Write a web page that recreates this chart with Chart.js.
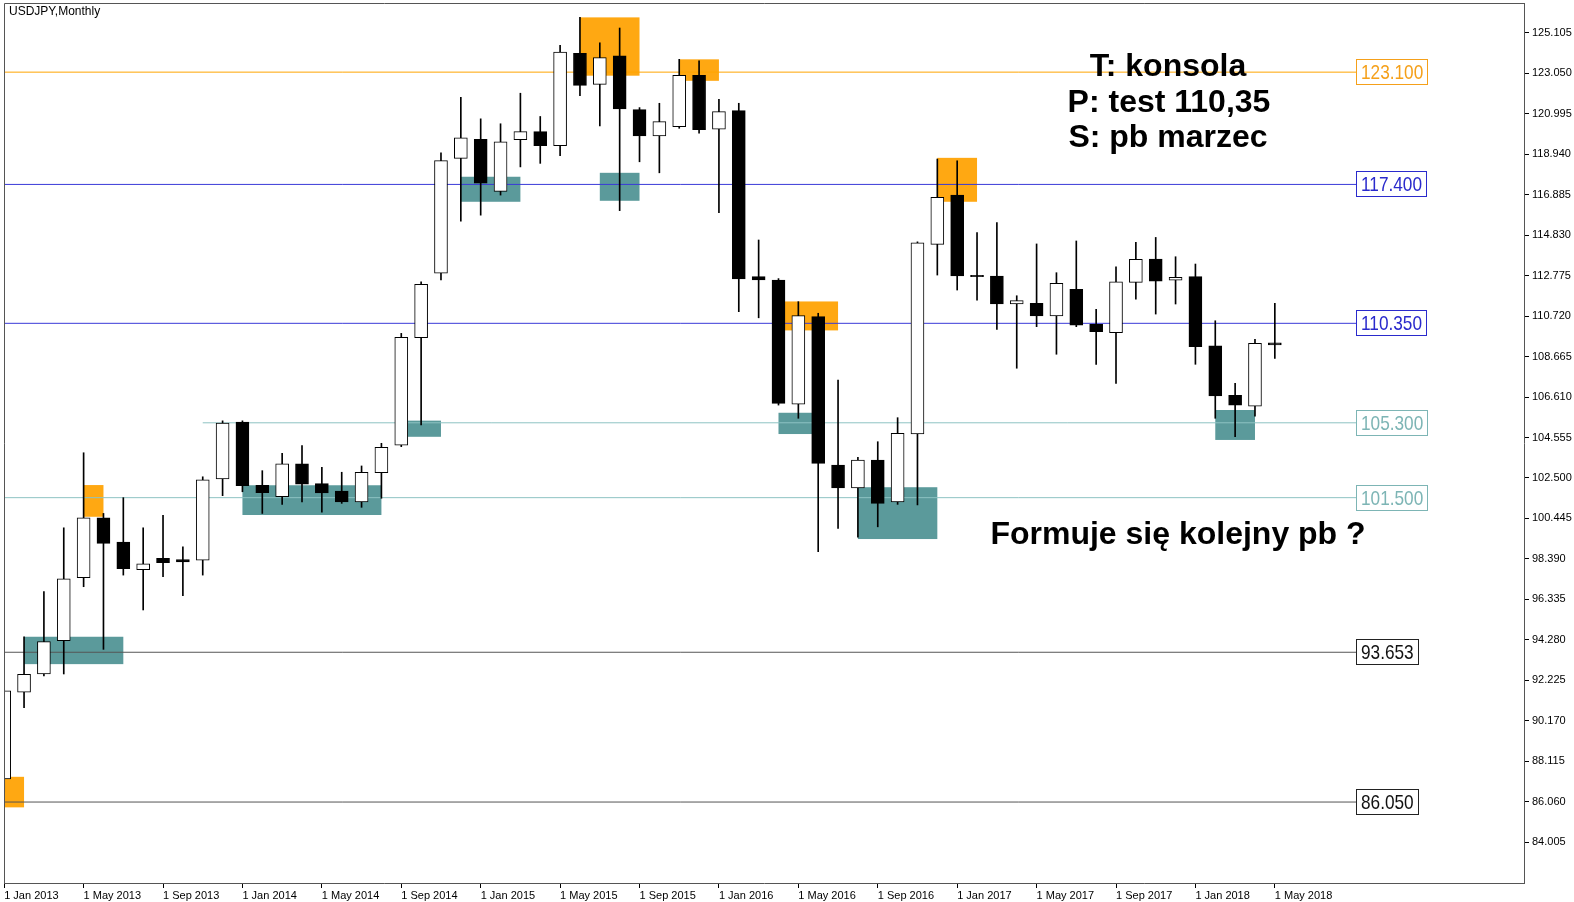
<!DOCTYPE html>
<html>
<head>
<meta charset="utf-8">
<script src="https://cdn.jsdelivr.net/npm/chart.js"></script>
<style>
  html, body { margin: 0; padding: 0; background: #fff; }
  #wrap { width: 1574px; height: 902px; }
</style>
</head>
<body>
<div id="wrap"><canvas id="usdjpyChart"></canvas></div>
<script>
// monthly candles, index 0 = Jan 2013 ... 64 = May 2018
const opens  = [87.22, 91.63, 92.55, 94.24, 97.44, 100.48, 99.25, 97.84, 98.42, 98.36, 98.33, 102.45,
                105.34, 102.13, 101.55, 103.22, 102.21, 101.84, 101.28, 102.77, 104.17, 109.62, 112.89, 118.72,
                119.69, 117.05, 119.67, 120.08, 119.37, 124.05, 122.48, 123.93, 121.20, 119.86, 120.33, 122.94,
                120.20, 121.15, 112.72, 112.55, 106.24, 110.69, 103.16, 101.99, 103.41, 101.29, 104.73, 114.36,
                116.86, 112.78, 112.75, 111.33, 111.36, 110.72, 112.07, 110.30, 109.87, 112.43, 113.61, 112.54,
                112.72, 109.21, 106.69, 106.15, 109.36];
const highs  = [91.75, 94.44, 96.73, 99.97, 103.78, 100.70, 101.50, 99.97, 100.60, 99.01, 102.56, 105.40,
                105.40, 102.87, 103.75, 104.14, 103.04, 102.79, 103.11, 104.26, 109.84, 112.46, 119.01, 121.82,
                120.73, 120.48, 122.03, 120.85, 124.46, 125.88, 124.59, 125.34, 121.30, 121.52, 123.75, 123.68,
                121.72, 121.52, 114.58, 112.62, 111.45, 110.86, 107.47, 103.55, 104.34, 105.56, 114.49, 118.69,
                118.60, 114.95, 115.46, 111.75, 114.38, 112.92, 114.53, 111.06, 113.22, 114.46, 114.71, 113.73,
                113.36, 110.48, 107.30, 109.54, 111.37];
const lows   = [86.55, 90.84, 92.45, 92.55, 96.98, 93.80, 97.57, 95.80, 97.49, 96.52, 97.57, 101.60,
                101.80, 100.70, 101.16, 101.29, 100.76, 101.21, 101.01, 101.47, 104.09, 105.19, 112.55, 115.53,
                115.84, 116.86, 118.29, 118.47, 118.86, 121.90, 120.37, 116.07, 118.55, 117.99, 120.25, 120.00,
                115.97, 110.94, 110.63, 106.20, 105.53, 98.76, 99.94, 99.50, 100.02, 101.16, 101.13, 112.80,
                112.04, 111.53, 110.04, 108.07, 110.18, 108.78, 110.18, 108.27, 107.30, 111.58, 110.82, 111.33,
                108.27, 105.53, 104.59, 105.64, 108.57];
const closes = [91.70, 92.53, 94.19, 97.38, 100.48, 99.18, 97.89, 98.14, 98.20, 98.24, 102.40, 105.29,
                102.11, 101.75, 103.22, 102.18, 101.74, 101.28, 102.79, 104.05, 109.64, 112.33, 118.61, 119.76,
                117.47, 119.56, 120.08, 119.37, 124.12, 122.43, 123.84, 121.23, 119.86, 120.59, 122.94, 120.18,
                121.10, 112.61, 112.55, 106.29, 110.74, 103.24, 101.99, 103.41, 101.21, 104.76, 114.44, 116.75,
                112.75, 112.72, 111.33, 111.50, 110.72, 112.38, 110.26, 109.92, 112.46, 113.60, 112.49, 112.68,
                109.16, 106.66, 106.20, 109.33, 109.26];

const xTickPos = [0, 4, 8, 12, 16, 20, 24, 28, 32, 36, 40, 44, 48, 52, 56, 60, 64];
const xTickLabels = ['1 Jan 2013', '1 May 2013', '1 Sep 2013', '1 Jan 2014', '1 May 2014', '1 Sep 2014',
                     '1 Jan 2015', '1 May 2015', '1 Sep 2015', '1 Jan 2016', '1 May 2016', '1 Sep 2016',
                     '1 Jan 2017', '1 May 2017', '1 Sep 2017', '1 Jan 2018', '1 May 2018'];
const yTicks = [125.105, 123.050, 120.995, 118.940, 116.885, 114.830, 112.775, 110.720, 108.665, 106.610,
                104.555, 102.500, 100.445, 98.390, 96.335, 94.280, 92.225, 90.170, 88.115, 86.060, 84.005];

// horizontal levels: price, first month, label text
const levelPrices = [123.100, 117.400, 110.350, 105.300, 101.500, 93.653, 86.050];
const levelStart  = [0, 0, 0, 10, 0, 0, 0];
const levelLabels = ['123.100', '117.400', '110.350', '105.300', '101.500', '93.653', '86.050'];
const levelColors = ['#ffa500', '#3a3ad8', '#3a3ad8', '#8ec3c3', '#8ec3c3', '#555555', '#555555'];
const levelTextColors = ['#f5a01a', '#2a2acc', '#2a2acc', '#7db5b5', '#7db5b5', '#111111', '#111111'];
const labelMonth = 68.1;

// zones: [from month, to month, low, high]
const orangeZones = [[0, 1, 85.78, 87.33], [4, 5, 100.53, 102.14], [29, 32, 122.92, 125.88],
                     [34, 36, 122.66, 123.75], [39, 42, 109.99, 111.46], [47, 49, 116.52, 118.75]];
const tealZones = [[1, 6, 93.05, 94.44], [12, 19, 100.62, 102.13], [20, 22, 104.59, 105.41],
                   [23, 26, 116.52, 117.79], [30, 32, 116.57, 117.99], [39, 41, 104.73, 105.81],
                   [43, 47, 99.40, 102.03], [61, 63, 104.43, 105.95]];

const bodies = opens.map((o, i) => ({ x: i, y: [o, closes[i]] }));
const wicks = opens.map((o, i) => ({ x: i, y: [lows[i], highs[i]] }));

const levelSets = levelPrices.map((p, k) => ({
    type: 'line',
    data: [{ x: levelStart[k], y: p }, { x: labelMonth, y: p }],
    borderColor: levelColors[k],
    borderWidth: 1,
    pointRadius: 0,
    order: 2
}));

const frame = {
    id: 'frame',
    beforeDraw(chart) {
        const c = chart.ctx;
        c.save();
        c.fillStyle = '#fff';
        c.fillRect(0, 0, chart.width, chart.height);
        c.restore();
    },
    afterDraw(chart) {
        const c = chart.ctx, a = chart.chartArea;
        c.save();
        c.strokeStyle = '#555';
        c.lineWidth = 1;
        c.beginPath();
        c.moveTo(a.left + 0.5, a.bottom);
        c.lineTo(a.left + 0.5, a.top + 0.5);
        c.lineTo(a.right, a.top + 0.5);
        c.stroke();
        c.fillStyle = '#000';
        c.font = '12px "Liberation Sans"';
        c.textBaseline = 'middle';
        c.fillText('USDJPY,Monthly', 9, 12);
        // notes
        c.font = 'bold 32px "Liberation Sans"';
        c.textAlign = 'center';
        c.textBaseline = 'alphabetic';
        c.fillText('T: konsola', 1168, 76);
        c.fillText('P: test 110,35', 1169, 112);
        c.fillText('S: pb marzec', 1168, 147);
        c.fillText('Formuje się kolejny pb ?', 1178, 544);
        c.restore();
    }
};

const zones = {
    id: 'zones',
    beforeDatasetsDraw(chart) {
        const c = chart.ctx, xs = chart.scales.x, ys = chart.scales.y, a = chart.chartArea;
        c.save();
        c.beginPath();
        c.rect(a.left, a.top, a.right - a.left, a.bottom - a.top);
        c.clip();
        const draw = (list, col) => {
            c.fillStyle = col;
            list.forEach(z => {
                const x0 = xs.getPixelForValue(z[0]), x1 = xs.getPixelForValue(z[1]);
                const y0 = ys.getPixelForValue(z[3]), y1 = ys.getPixelForValue(z[2]);
                c.fillRect(x0, y0, x1 - x0, y1 - y0);
            });
        };
        draw(orangeZones, '#ffa812');
        draw(tealZones, '#5b9a9b');
        c.restore();
    }
};

const levelTags = {
    id: 'levelTags',
    afterDatasetsDraw(chart) {
        const c = chart.ctx, xs = chart.scales.x, ys = chart.scales.y;
        const squeeze = 0.82;
        levelPrices.forEach((p, k) => {
            c.save();
            c.font = '21px "Liberation Sans"';
            const tw = c.measureText(levelLabels[k]).width * squeeze;
            const bx = Math.round(xs.getPixelForValue(labelMonth));
            const by = Math.round(ys.getPixelForValue(p));
            const w = Math.round(tw + 9);
            c.fillStyle = '#fff';
            c.fillRect(bx, by - 13, w, 26);
            c.strokeStyle = levelColors[k] === '#555555' ? '#222' : levelTextColors[k];
            c.lineWidth = 1;
            c.strokeRect(bx + 0.5, by - 12.5, w, 25);
            c.translate(bx + 5, by + 1);
            c.scale(squeeze, 1);
            c.fillStyle = levelTextColors[k];
            c.textBaseline = 'middle';
            c.fillText(levelLabels[k], 0, 0);
            c.restore();
        });
    }
};

const ctx = document.getElementById('usdjpyChart').getContext('2d');
new Chart(ctx, {
    type: 'bar',
    data: {
        datasets: [{
            label: 'body',
            data: bodies,
            order: 0,
            grouped: false,
            barThickness: 13,
            borderWidth: 1,
            borderColor: '#000',
            borderSkipped: false,
            backgroundColor: closes.map((c, i) => c >= opens[i] ? '#fff' : '#000')
        }, {
            label: 'wick',
            data: wicks,
            order: 1,
            grouped: false,
            barThickness: 1,
            borderWidth: 0,
            backgroundColor: '#000'
        }].concat(levelSets)
    },
    options: {
        responsive: true,
        maintainAspectRatio: false,
        animation: false,
        layout: { padding: { left: 4, top: 3, right: 0, bottom: 0 } },
        plugins: {
            legend: { display: false },
            tooltip: { enabled: false }
        },
        scales: {
            x: {
                type: 'linear',
                min: -0.01,
                max: 76.55,
                offset: false,
                afterBuildTicks: s => { s.ticks = xTickPos.map(v => ({ value: v })); },
                afterFit: s => { s.height = 19; s.paddingLeft = 0; s.paddingRight = 0; },
                grid: { drawOnChartArea: false, drawTicks: true, tickLength: 5, tickColor: '#000', offset: false },
                border: { display: true, color: '#555' },
                ticks: {
                    autoSkip: false, maxRotation: 0, minRotation: 0, align: 'start', padding: 1,
                    color: '#000', font: { family: 'Liberation Sans', size: 11 },
                    callback: (v, i) => xTickLabels[i]
                }
            },
            y: {
                type: 'linear',
                position: 'right',
                min: 81.94,
                max: 126.61,
                afterBuildTicks: s => { s.ticks = yTicks.map(v => ({ value: v })); },
                afterFit: s => { s.width = 50; s.paddingTop = 0; s.paddingBottom = 0; },
                grid: { drawOnChartArea: false, drawTicks: true, tickLength: 5, tickColor: '#000' },
                border: { display: true, color: '#555' },
                ticks: {
                    padding: 3, color: '#000', font: { family: 'Liberation Sans', size: 11 },
                    callback: v => v.toFixed(3)
                }
            }
        }
    },
    plugins: [frame, zones, levelTags]
});
</script>
</body>
</html>
